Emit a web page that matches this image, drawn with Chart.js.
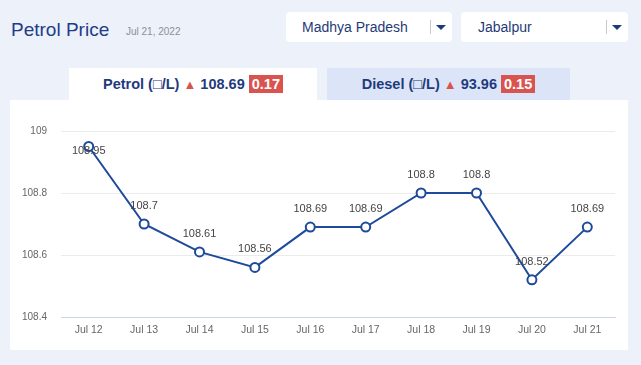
<!DOCTYPE html>
<html><head><meta charset="utf-8">
<script src="https://cdn.jsdelivr.net/npm/chart.js@4"></script>
<style>
html,body{margin:0;padding:0;width:641px;height:365px;overflow:hidden;background:#edf1f9;font-family:"Liberation Sans",Arial,sans-serif;}
.abs{position:absolute;}
#title{left:11px;top:19px;font-size:19px;color:#1d3c8a;}
#date{left:126px;top:26px;font-size:10px;color:#8a8f99;}
.dd{top:12px;height:30px;background:#fff;border-radius:4px;}
.dd span.t{position:absolute;top:7px;font-size:14px;color:#1f3a78;}
.dd .sep{position:absolute;top:8px;width:1px;height:14px;background:#c9c9c9;}
.dd .car{position:absolute;top:13px;width:0;height:0;border-left:5px solid transparent;border-right:5px solid transparent;border-top:5px solid #1f3a78;}
.tab{top:68px;height:32px;text-align:center;line-height:32px;font-size:14.5px;font-weight:bold;color:#1f3a7c;}
.tri{color:#d9534f;font-size:13px;}
.badge{background:#d9534f;color:#fff;padding:1px 3px;}
#panel{left:10px;top:100px;width:618px;height:250px;background:#fff;}
</style></head><body>
<div id="title" class="abs">Petrol Price</div>
<div id="date" class="abs">Jul 21, 2022</div>
<div class="abs dd" style="left:286px;width:166px;"><span class="t" style="left:16px;">Madhya Pradesh</span><div class="sep" style="left:144px"></div><div class="car" style="left:150px"></div></div>
<div class="abs dd" style="left:461px;width:167px;"><span class="t" style="left:17px;">Jabalpur</span><div class="sep" style="left:145px"></div><div class="car" style="left:151px"></div></div>
<div class="abs tab" style="left:69px;width:248px;background:#fff;">Petrol (□/L) <span class="tri">▲</span> 108.69 <span class="badge">0.17</span></div>
<div class="abs tab" style="left:327px;width:243px;background:#dbe5f7;">Diesel (□/L) <span class="tri">▲</span> 93.96 <span class="badge">0.15</span></div>
<div id="panel" class="abs"><canvas id="c" width="618" height="250"></canvas></div>
<script>
const labels = ["Jul 12","Jul 13","Jul 14","Jul 15","Jul 16","Jul 17","Jul 18","Jul 19","Jul 20","Jul 21"];
const petrolPrices = [108.95,108.7,108.61,108.56,108.69,108.69,108.8,108.8,108.52,108.69];
const yTicks = [108.4,108.6,108.8,109];

const valueLabels = {
  id:'valueLabels',
  afterDatasetsDraw(chart){
    const ctx = chart.ctx, meta = chart.getDatasetMeta(0), area = chart.chartArea;
    ctx.save();
    ctx.font = '11px "Liberation Sans", Arial, sans-serif';
    ctx.fillStyle = '#444';
    ctx.textAlign = 'center';
    ctx.textBaseline = 'middle';
    meta.data.forEach((pt,i)=>{
      let y = pt.y - 18;
      if (y < area.top) y = pt.y + 4;
      ctx.fillText(String(chart.data.datasets[0].data[i]), pt.x, y);
    });
    ctx.restore();
  }
};

new Chart(document.getElementById('c'), {
  type:'line',
  data:{labels:labels, datasets:[{data:petrolPrices, borderColor:'#1d4a9a', borderWidth:2, tension:0,
    pointRadius:4.5, pointBackgroundColor:'#fff', pointBorderColor:'#1d4a9a', pointBorderWidth:2, pointHoverRadius:4.5}]},
  options:{
    responsive:false, animation:false, devicePixelRatio:1,
    layout:{padding:{left:0,top:31,right:13,bottom:0}},
    plugins:{legend:{display:false}, tooltip:{enabled:false}},
    scales:{
      x:{offset:true, grid:{display:false, drawTicks:false}, border:{display:true,color:'#c8d5ea'},
        ticks:{color:'#666', font:{size:10.5,family:'"Liberation Sans", Arial'}, padding:7, maxRotation:0},
        afterFit(s){ s.height = 33; }},
      y:{min:108.4, max:109, grid:{color:'#ebebeb', drawTicks:false}, border:{display:false},
        afterBuildTicks(s){ s.ticks = yTicks.map(v=>({value:v})); },
        ticks:{color:'#666', font:{size:10,family:'"Liberation Sans", Arial'}, padding:14,
          callback:v=>String(+v.toFixed(1))},
        afterFit(s){ s.width = 51; }}
    }
  },
  plugins:[valueLabels]
});
</script>
</body></html>
